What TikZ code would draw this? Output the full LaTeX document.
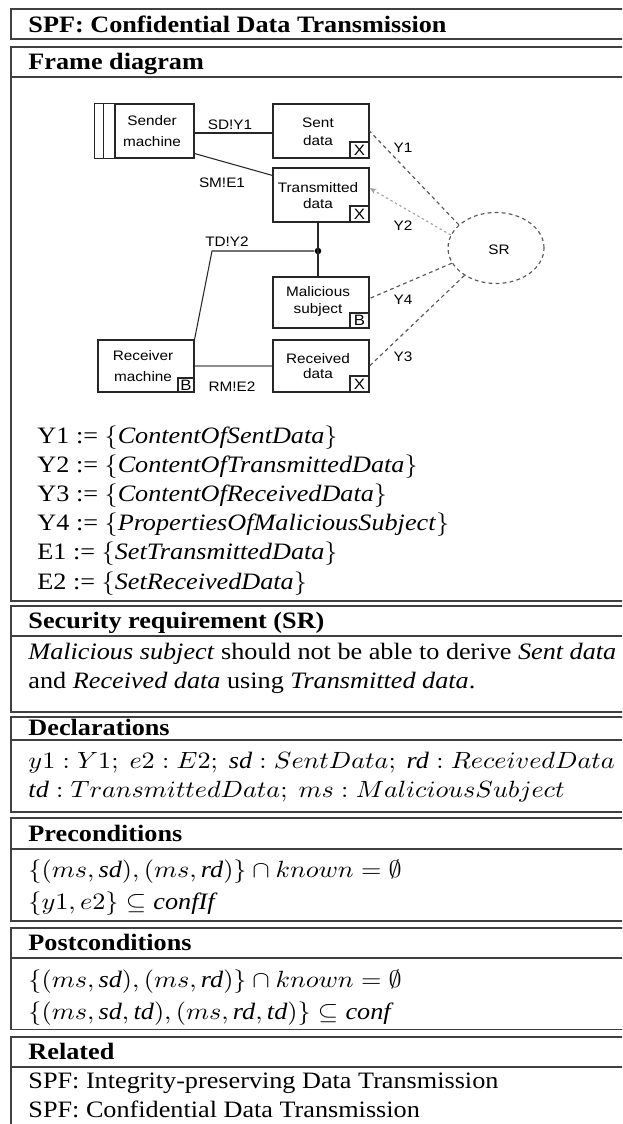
\documentclass[tikz,border=0pt]{standalone}
\usepackage[no-math]{fontspec}
\setmainfont{Liberation Serif}
\newfontfamily\diagfont{Liberation Sans}
\usepackage{graphicx}
\usetikzlibrary{shapes.geometric,arrows.meta}
\newdimen\pu \pu=0.4255pt
\newcommand\sx[1]{\scalebox{1.115}[1]{#1}}
\begin{document}
\begin{tikzpicture}[x=\pu, y=-\pu,
  tline/.style={draw=black!75, line width=0.7pt},
  hd/.style={anchor=base west, inner sep=0, font=\fontsize{10}{12}\selectfont\bfseries},
  tx/.style={anchor=base west, inner sep=0, font=\fontsize{10}{12}\selectfont},
  box/.style={draw=black!85, line width=0.45pt, minimum width=96\pu, minimum height=54\pu, inner sep=0},
  dtext/.style={font=\diagfont\fontsize{5.85}{#1}\selectfont, align=center, inner sep=0},
  dtext/.default=6.9pt,
  mk/.style={draw=black!85, line width=0.45pt, anchor=south east, minimum width=19\pu, minimum height=16\pu, inner sep=0, font=\diagfont\fontsize{6.4}{7}\selectfont},
  conn/.style={draw=black!85, line width=0.45pt},
  dl/.style={draw=black!65, line width=0.5pt, dash pattern=on 1.6pt off 1.4pt},
]
\useasboundingbox (0,0) rectangle (622,1124);
\clip (0,0) rectangle (622,1124);

% ---------- table frame ----------
\foreach \t/\b in {9.3/39.3, 46.7/600.7, 605.7/711.7, 716.7/811.7, 818.3/920.7, 927.7/1029.5, 1036.7/1140}
  \draw[tline] (650,\t) -| (11,\b) -- (650,\b);
\foreach \h in {76.7, 636, 740, 849, 958, 1067}
  \draw[tline] (11,\h) -- (650,\h);

% ---------- headers ----------
\node[hd] (title) at (28,32.1) {\sx{SPF: Confidential Data Transmission}};
\node[hd] (fdh) at (28,69.5) {\sx{Frame diagram}};
\node[hd] (srh) at (28,628.7) {\sx{Security requirement (SR)}};
\node[hd] (dech) at (28,735) {\sx{Declarations}};
\node[hd] (preh) at (28,841.5) {\sx{Preconditions}};
\node[hd] (posth) at (28,950.7) {\sx{Postconditions}};
\node[hd] (relh) at (28,1059.7) {\sx{Related}};

% ---------- frame diagram ----------
\node[box, minimum width=79\pu] (snd) at (154.5,131) {};
\draw[conn] (snd.north west) -| ([xshift=-20\pu]snd.south west) -- (snd.south west);
\draw[conn] ([xshift=-11\pu]snd.north west) -- ([xshift=-11\pu]snd.south west);
\node[dtext=8.8pt] (sndt) at (152,131) {\sx{Sender}\\\sx{machine}};

\node[box] (sd) at (321,131) {};
\node[dtext=7.8pt] (sdt) at (318,132) {\sx{Sent}\\\sx{data}};
\node[mk] (sdx) at (sd.south east) {\sx{X}};

\node[box] (td) at (321,195) {};
\node[dtext=6.7pt] (tdt) at (318,195.5) {\sx{Transmitted}\\\sx{data}};
\node[mk] (tdx) at (td.south east) {\sx{X}};

\node[box, minimum height=51\pu] (ms) at (321,302.5) {};
\node[dtext=7.1pt] (mst) at (318,301.7) {\sx{Malicious}\\\sx{subject}};
\node[mk, minimum height=15\pu] (msb) at (ms.south east) {\sx{B}};

\node[box, minimum height=52\pu] (rm) at (146,366) {};
\node[dtext=9.2pt] (rmt) at (143,366) {\sx{Receiver}\\\sx{machine}};
\node[mk, minimum width=16\pu, minimum height=14\pu] (rmb) at (rm.south east) {\sx{B}};

\node[box, minimum height=52\pu] (rd) at (321,366) {};
\node[dtext=6.6pt] (rdt) at (318,366) {\sx{Received}\\\sx{data}};
\node[mk] (rdx) at (rd.south east) {\sx{X}};

\node[ellipse, dl, minimum width=96\pu, minimum height=71\pu, inner sep=0] (sr) at (496,248) {};
\node[dtext] (srt) at (499,250) {\sx{SR}};

% junction
\node[circle, fill=black, inner sep=0, minimum size=6.5\pu] (j) at (318,251) {};
\coordinate (k) at (212,251);

% connectors
\draw[conn] ([yshift=-2\pu]snd.east) -- ([yshift=-2\pu]sd.west);
\draw[conn] ([yshift=5\pu]snd.south east) -- ([yshift=-8\pu]td.north west);
\draw[conn] ([xshift=-3\pu]td.south) -- ([xshift=-3\pu]ms.north);
\draw[conn] (j) -- (k) -- (rm.north east);
\draw[conn, draw=black!45, line width=0.6pt] (rm.east) -- (rd.west);

\draw[dl] (sr.148) -- (sd.east);
\draw[draw=black!35, line width=0.5pt, dash pattern=on 1pt off 1.2pt, -{Stealth[length=3pt,width=2.4pt]}] (sr.164) -- ([yshift=7\pu]td.east);
\draw[dl] (sr.199) -- ([yshift=4\pu]ms.east);
\draw[dl] (sr.221) -- (rd.east);

% interface labels
\node[dtext] (l1) at (230,125) {\sx{SD!Y1}};
\node[dtext] (l2) at (222,183) {\sx{SM!E1}};
\node[dtext] (l3) at (227,242) {\sx{TD!Y2}};
\node[dtext] (l4) at (232,387) {\sx{RM!E2}};
\node[dtext] (ly1) at (403,148) {\sx{Y1}};
\node[dtext] (ly2) at (403,226) {\sx{Y2}};
\node[dtext] (ly4) at (403,300) {\sx{Y4}};
\node[dtext] (ly3) at (403,357) {\sx{Y3}};

% phenomena list
\node[tx] (p1) at (37,443) {\sx{Y1 := $\{$\textit{ContentOfSentData}$\}$}};
\node[tx] (p2) at (37,472.2) {\sx{Y2 := $\{$\textit{ContentOfTransmittedData}$\}$}};
\node[tx] (p3) at (37,501.4) {\sx{Y3 := $\{$\textit{ContentOfReceivedData}$\}$}};
\node[tx] (p4) at (37,530.6) {\sx{Y4 := $\{$\textit{PropertiesOfMaliciousSubject}$\}$}};
\node[tx] (p5) at (37,559.8) {\sx{E1 := $\{$\textit{SetTransmittedData}$\}$}};
\node[tx] (p6) at (37,589) {\sx{E2 := $\{$\textit{SetReceivedData}$\}$}};

% ---------- SR ----------
\node[tx] (sr1) at (28,659) {\sx{\textit{Malicious subject} should not be able to derive \textit{Sent data}}};
\node[tx] (sr2) at (28,688) {\sx{and \textit{Received data} using \textit{Transmitted data}.}};

% ---------- declarations ----------
\node[tx] (d1) at (28,768.6) {\sx{$y1 : Y1;\ e2 : E2;\ \textit{sd} : SentData;\ \textit{rd} : ReceivedData$}};
\node[tx] (d2) at (28,797) {\sx{$\textit{td} : TransmittedData;\ ms : MaliciousSubject$}};

% ---------- pre / post ----------
\node[tx] (pr1) at (28,877.6) {\sx{$\{(ms, \textit{sd}), (ms, \textit{rd})\} \cap known = \emptyset$}};
\node[tx] (pr2) at (28,909.2) {\sx{$\{y1, e2\} \subseteq \textit{confIf}$}};
\node[tx] (po1) at (28,987.6) {\sx{$\{(ms, \textit{sd}), (ms, \textit{rd})\} \cap known = \emptyset$}};
\node[tx] (po2) at (28,1019.2) {\sx{$\{(ms, \textit{sd}, \textit{td}), (ms, \textit{rd}, \textit{td})\} \subseteq \textit{conf}$}};

% ---------- related ----------
\node[tx] (r1) at (28,1088.6) {\sx{SPF: Integrity-preserving Data Transmission}};
\node[tx] (r2) at (28,1117) {\sx{SPF: Confidential Data Transmission}};
\end{tikzpicture}
\end{document}
